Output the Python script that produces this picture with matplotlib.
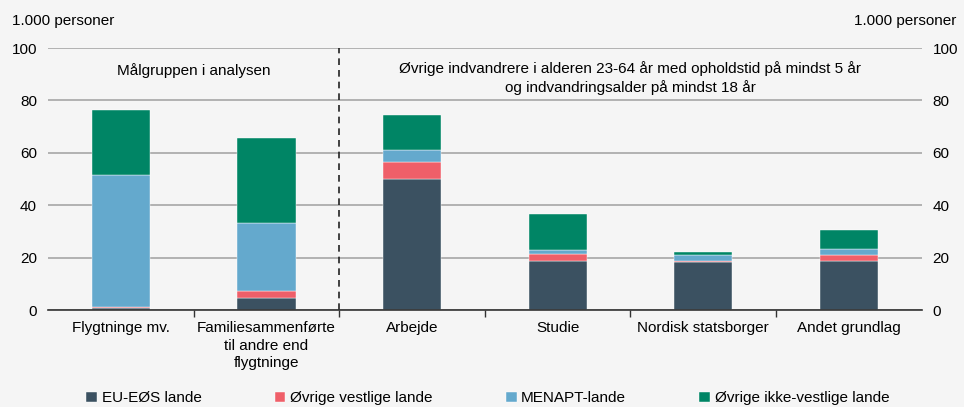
import matplotlib.pyplot as plt
import numpy as np

plt.rcParams['font.family'] = ['Liberation Sans', 'DejaVu Sans']

categories = ['Flygtninge mv.', 'Familiesammenførte\ntil andre end\nflygtninge', 'Arbejde',
              'Studie', 'Nordisk statsborger', 'Andet grundlag']
series_names = ['EU-EØS lande', 'Øvrige vestlige lande', 'MENAPT-lande', 'Øvrige ikke-vestlige lande']
eu_eos = [1.0, 4.6, 50.0, 18.8, 18.4, 18.7]
ovr_vest = [0.2, 2.8, 6.6, 2.7, 0.4, 2.4]
menapt = [50.3, 25.9, 4.4, 1.4, 2.2, 2.3]
ovr_ikke_vest = [25.0, 32.2, 13.5, 13.6, 1.3, 7.1]
colors = ['#3b5161', '#ef5f69', '#64a9cd', '#008565']

bg = '#f5f5f5'
fig = plt.figure(figsize=(9.64, 4.07), dpi=100, facecolor=bg)
ax = fig.add_axes([0.050, 0.238, 0.906, 0.644], facecolor=bg)

x = np.arange(len(categories))
bottom = np.zeros(len(categories))
for vals, name, c in zip([eu_eos, ovr_vest, menapt, ovr_ikke_vest], series_names, colors):
    ax.bar(x, vals, 0.4, bottom=bottom, color=c, label=name, zorder=3,
           edgecolor='white', linewidth=0.3)
    bottom += np.array(vals)

ax.set_ylim(0, 100)
ax.set_xlim(-0.5, len(categories) - 0.5)
ax.set_yticks(range(0, 101, 20))
ax.yaxis.grid(True, color='#a6a6a6', linewidth=1.2, zorder=0)
ax.tick_params(axis='y', length=0, labelsize=11, pad=8)
for s in ['left', 'right', 'top']:
    ax.spines[s].set_visible(False)
ax.spines['bottom'].set_color('#333333')
ax.spines['bottom'].set_linewidth(1.2)
ax.spines['bottom'].set_zorder(4)

ax.set_xticks(x)
ax.set_xticklabels(categories, fontsize=11, linespacing=1.3)
ax.tick_params(axis='x', length=0, pad=8)
ax.set_xticks(np.arange(0.5, len(categories) - 0.5), minor=True)
ax.tick_params(axis='x', which='minor', length=5, width=1, direction='out', color='#333333')

ax2 = ax.twinx()
ax2.set_ylim(0, 100)
ax2.set_yticks(range(0, 101, 20))
ax2.tick_params(axis='y', length=0, labelsize=11, pad=8)
for s in ['left', 'right', 'top', 'bottom']:
    ax2.spines[s].set_visible(False)

ax.axvline(1.5, color='#222222', linestyle=(0, (4, 3)), linewidth=1.2, zorder=4)

ax.text(0.5, 91.5, 'Målgruppen i analysen', ha='center', va='center', fontsize=11)
ax.text(3.5, 88.5, 'Øvrige indvandrere i alderen 23-64 år med opholdstid på mindst 5 år\nog indvandringsalder på mindst 18 år',
        ha='center', va='center', fontsize=11, linespacing=1.3)

fig.text(0.012, 0.948, '1.000 personer', fontsize=11, ha='left', va='center')
fig.text(0.992, 0.948, '1.000 personer', fontsize=11, ha='right', va='center')

fig.legend(loc='lower center', bbox_to_anchor=(0.506, -0.03), ncol=4, frameon=False,
           fontsize=11, handlelength=0.7, handleheight=0.7, handletextpad=0.3,
           columnspacing=4.8)

fig.savefig('out.png', dpi=100, facecolor=bg)
